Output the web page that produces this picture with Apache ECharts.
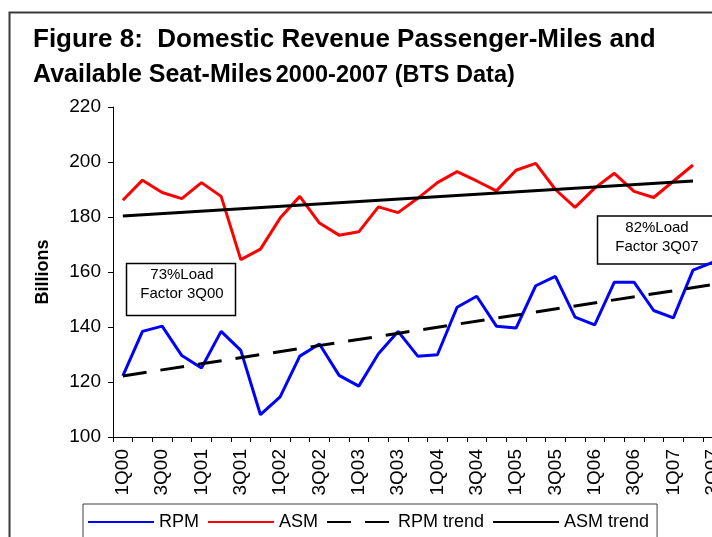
<!DOCTYPE html>
<html>
<head>
<meta charset="utf-8">
<script src="https://cdn.jsdelivr.net/npm/echarts@6/dist/echarts.min.js"></script>
<style>
  html, body { margin: 0; padding: 0; background: #fff; }
  #chart { width: 712px; height: 537px; }
</style>
</head>
<body>
<div id="chart"></div>
<script>
// quarters 1Q00 .. 3Q07
const quarters = [
  '1Q00', '2Q00', '3Q00', '4Q00', '1Q01', '2Q01', '3Q01', '4Q01',
  '1Q02', '2Q02', '3Q02', '4Q02', '1Q03', '2Q03', '3Q03', '4Q03',
  '1Q04', '2Q04', '3Q04', '4Q04', '1Q05', '2Q05', '3Q05', '4Q05',
  '1Q06', '2Q06', '3Q06', '4Q06', '1Q07', '2Q07', '3Q07'
];

// billions
const rpm = [
  122.2, 138.4, 140.3, 129.6, 125.1, 138.4, 131.5, 108.1,
  114.6, 129.4, 133.8, 122.4, 118.5, 130.3, 138.4, 129.4,
  129.9, 147.2, 151.2, 140.3, 139.6, 155.0, 158.4, 143.6,
  140.8, 156.3, 156.3, 146.0, 143.3, 160.7, 163.5
];
const asm = [
  186.1, 193.4, 188.9, 186.7, 192.5, 187.5, 164.5, 168.3,
  179.6, 187.5, 177.8, 173.4, 174.6, 183.7, 181.6, 186.8,
  192.5, 196.5, 193.1, 189.5, 197.0, 199.5, 190.0, 183.5,
  190.5, 195.9, 189.3, 187.1, 193.0, 198.9
];
// trend lines: only the end values are read, the line joins them
const rpmTrend = [122.2, null, null, null, null, null, null, null, null, null,
  null, null, null, null, null, null, null, null, null, null,
  null, null, null, null, null, null, null, null, null, null, 155.4];
const asmTrend = [180.4, null, null, null, null, null, null, null, null, null,
  null, null, null, null, null, null, null, null, null, null,
  null, null, null, null, null, null, null, null, null, 193.1];

const yTicks = { min: 100, max: 220, step: 20 };
const legendNames = ['RPM', 'ASM', 'RPM trend', 'ASM trend'];

const font = '"Liberation Sans", Arial, sans-serif';

const chart = echarts.init(document.getElementById('chart'));

const option = {
  animation: false,
  backgroundColor: '#fff',
  title: [
    {
      text: 'Figure 8:  Domestic Revenue Passenger-Miles and',
      left: 33,
      top: 27,
      padding: 0,
      textStyle: { fontSize: 26, fontWeight: 'bold', color: '#000', fontFamily: font }
    },
    {
      text: '{a|Available Seat-Miles}{s| }{b|2000-2007 (BTS Data)}',
      left: 33,
      top: 60,
      padding: 0,
      textStyle: {
        fontFamily: font,
        rich: {
          a: { fontSize: 25, fontWeight: 'bold', color: '#000', fontFamily: font, verticalAlign: 'bottom', lineHeight: 28 },
          s: { fontSize: 12, fontWeight: 'bold', color: '#000', fontFamily: font, verticalAlign: 'bottom', lineHeight: 28 },
          b: { fontSize: 23.5, fontWeight: 'bold', color: '#000', fontFamily: font, verticalAlign: 'bottom', lineHeight: 28 }
        }
      }
    }
  ],
  legend: {
    data: legendNames,
    left: 83,
    top: 504,
    itemWidth: 66,
    itemHeight: 14,
    itemGap: 8,
    padding: [8, 8, 20, 4],
    borderColor: '#404040',
    borderWidth: 1,
    backgroundColor: '#fff',
    itemStyle: { opacity: 0, borderWidth: 0 },
    textStyle: { fontSize: 18, lineHeight: 20, color: '#000', fontFamily: font }
  },
  grid: {
    left: 113,
    top: 107,
    width: 609.5,
    height: 330,
    outerBoundsMode: 'none'
  },
  xAxis: {
    type: 'category',
    data: quarters,
    boundaryGap: true,
    axisLine: { lineStyle: { color: '#000', width: 1 } },
    axisTick: { show: true, interval: 0, length: 5, lineStyle: { color: '#000' } },
    axisLabel: { interval: 1, rotate: 90, margin: 12, fontSize: 19, color: '#000', fontFamily: font },
    splitLine: { show: false }
  },
  yAxis: {
    type: 'value',
    min: yTicks.min,
    max: yTicks.max,
    interval: yTicks.step,
    name: 'Billions',
    nameLocation: 'middle',
    nameRotate: 90,
    nameGap: 61,
    nameTextStyle: { fontSize: 18, fontWeight: 'bold', color: '#000', fontFamily: font },
    axisLine: { show: true, lineStyle: { color: '#000', width: 1 } },
    axisTick: { show: true, length: 5, lineStyle: { color: '#000' } },
    axisLabel: { margin: 12, fontSize: 19, color: '#000', fontFamily: font },
    splitLine: { show: false }
  },
  series: [
    {
      name: 'RPM', type: 'line', data: rpm, symbol: 'none',
      lineStyle: { color: '#0000ff', width: 3 }, itemStyle: { color: '#0000ff' }
    },
    {
      name: 'ASM', type: 'line', data: asm, symbol: 'none',
      lineStyle: { color: '#ff0000', width: 3 }, itemStyle: { color: '#ff0000' }
    },
    {
      name: 'RPM trend', type: 'line', data: rpmTrend, symbol: 'none', connectNulls: true,
      lineStyle: { color: '#000', width: 3, type: [24, 14] }, itemStyle: { color: '#000' }
    },
    {
      name: 'ASM trend', type: 'line', data: asmTrend, symbol: 'none', connectNulls: true,
      lineStyle: { color: '#000', width: 3 }, itemStyle: { color: '#000' }
    }
  ],
  graphic: [
    // outer frame
    {
      type: 'rect', left: 7, top: 10, silent: true,
      shape: { width: 800, height: 600 },
      style: { fill: 'none', stroke: '#3a3a3a', lineWidth: 2 }
    },
    // annotation boxes
    {
      type: 'rect', x: 126.5, y: 263.5, silent: true,
      shape: { width: 109, height: 52 },
      style: { fill: '#fff', stroke: '#000', lineWidth: 1.5 }
    },
    {
      type: 'text', x: 182, y: 284, silent: true,
      style: {
        text: '73%Load\nFactor 3Q00', fill: '#000', font: '15px ' + font,
        align: 'center', verticalAlign: 'middle', lineHeight: 19
      }
    },
    {
      type: 'rect', x: 597.5, y: 216, silent: true,
      shape: { width: 118, height: 48 },
      style: { fill: '#fff', stroke: '#000', lineWidth: 1.5 }
    },
    {
      type: 'text', x: 657, y: 237, silent: true,
      style: {
        text: '82%Load\nFactor 3Q07', fill: '#000', font: '15px ' + font,
        align: 'center', verticalAlign: 'middle', lineHeight: 19
      }
    }
  ]
};

chart.setOption(option);
</script>
</body>
</html>
